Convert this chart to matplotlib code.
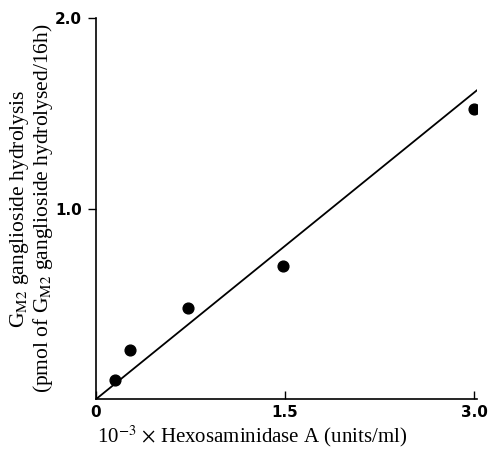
import matplotlib
matplotlib.use("Agg")
import matplotlib.pyplot as plt

plt.rcParams['font.family'] = 'Liberation Serif'
plt.rcParams['mathtext.fontset'] = 'stix'

# measured points
hexA = [0.15, 0.27, 0.73, 1.48, 3.0]
hydrolysis = [0.10, 0.26, 0.48, 0.70, 1.52]

# fitted line (through origin)
line_x = [0.0, 3.02]
line_y = [0.0, 1.62]

xticks = [0, 1.5, 3.0]
xtick_labels = ["0", "1.5", "3.0"]
yticks = [1.0, 2.0]
ytick_labels = ["1.0", "2.0"]

fig = plt.figure(figsize=(4.9, 4.5), dpi=100)
ax = fig.add_axes([0.196, 0.113, 0.777, 0.847])

ax.plot(line_x, line_y, color="black", lw=1.3)
ax.scatter(hexA, hydrolysis, s=60, color="black", zorder=3)

ax.set_xlim(0, 3.02)
ax.set_ylim(0, 2.0)

ax.spines['top'].set_visible(False)
ax.spines['right'].set_visible(False)
ax.spines['left'].set_linewidth(1.2)
ax.spines['bottom'].set_linewidth(1.2)

ax.set_xticks(xticks)
ax.set_xticklabels(xtick_labels, family="DejaVu Sans", fontsize=11, fontweight="bold")
ax.set_yticks(yticks)
ax.set_yticklabels(ytick_labels, family="DejaVu Sans", fontsize=11, fontweight="bold")
ax.tick_params(axis="x", direction="in", length=6, width=1, pad=4)
ax.tick_params(axis="y", direction="out", length=6, width=1, pad=4)

ax.set_xlabel(r"10$^{-3}$ $\times$ Hexosaminidase A (units/ml)", fontsize=15, labelpad=3, x=0.41)
ax.set_ylabel("G$_{\\mathrm{M2}}$ ganglioside hydrolysis\n(pmol of G$_{\\mathrm{M2}}$ ganglioside hydrolysed/16h)",
              fontsize=15.5, labelpad=0, linespacing=1.0)

fig.savefig("out.png", dpi=100)
